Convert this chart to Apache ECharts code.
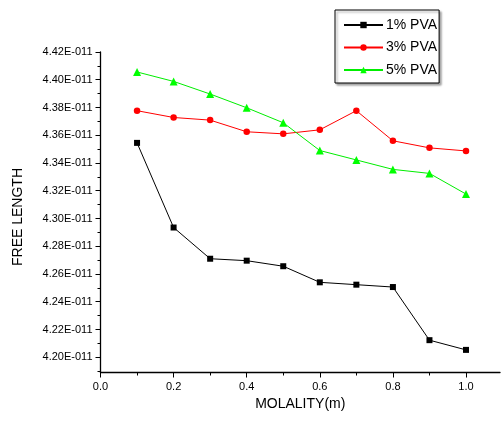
<!DOCTYPE html>
<html>
<head>
<meta charset="utf-8">
<script src="https://cdn.jsdelivr.net/npm/echarts@6/dist/echarts.min.js"></script>
<style>
html,body{margin:0;padding:0;background:#fff;}
#chart{width:501px;height:425px;}
</style>
</head>
<body>
<div id="chart"></div>
<script>
// Molality (m)
const molality = [0.1, 0.2, 0.3, 0.4, 0.5, 0.6, 0.7, 0.8, 0.9, 1.0];
// Free length values, in units of 1E-11
const pva1 = [4.3545, 4.2935, 4.2710, 4.2696, 4.2656, 4.2540, 4.2523, 4.2506, 4.2123, 4.2053];
const pva3 = [4.3777, 4.3728, 4.3709, 4.3625, 4.3610, 4.3639, 4.3777, 4.3560, 4.3509, 4.3487];
const pva5 = [4.4056, 4.3988, 4.3897, 4.3798, 4.3690, 4.3490, 4.3422, 4.3354, 4.3325, 4.3176];
const seriesNames = ['1% PVA', '3% PVA', '5% PVA'];
// Tick values
const yMajorTicks = [4.20, 4.22, 4.24, 4.26, 4.28, 4.30, 4.32, 4.34, 4.36, 4.38, 4.40, 4.42];
const yMinorTicks = [4.19, 4.21, 4.23, 4.25, 4.27, 4.29, 4.31, 4.33, 4.35, 4.37, 4.39, 4.41];
const xMajorTicks = [0.0, 0.2, 0.4, 0.6, 0.8, 1.0];
const xMinorTicks = [0.1, 0.3, 0.5, 0.7, 0.9];

const FONT = "'Liberation Sans', Arial, sans-serif";
const chart = echarts.init(document.getElementById('chart'), null, {renderer: 'canvas'});

const yMin = 4.189, yMax = 4.42, xMin = 0, xMax = 1.093;

function pairs(arr) { return molality.map((m, i) => [m, arr[i]]); }

const option = {
  backgroundColor: '#fff',
  animation: false,
  grid: {left: 100.5, top: 52, right: 1, bottom: 52.5, outerBoundsMode: 'none', containLabel: false},
  xAxis: [{
    type: 'value', min: xMin, max: xMax, position: 'bottom',
    name: 'MOLALITY(m)', nameLocation: 'middle', nameGap: 20,
    nameTextStyle: {fontFamily: FONT, fontSize: 14, color: '#000'},
    axisLine: {show: true, onZero: false, lineStyle: {color: '#000', width: 1.3}},
    axisTick: {show: true, inside: false, length: 5, customValues: xMajorTicks, lineStyle: {color: '#000', width: 1}},
    axisLabel: {show: true, margin: 9, customValues: xMajorTicks, fontFamily: FONT, fontSize: 11, color: '#000',
      formatter: v => v.toFixed(1)},
    splitLine: {show: false}
  }, {
    type: 'value', min: xMin, max: xMax, position: 'bottom', gridIndex: 0,
    axisLine: {show: false, onZero: false},
    axisTick: {show: true, inside: false, length: 3, customValues: xMinorTicks, lineStyle: {color: '#000', width: 1}},
    axisLabel: {show: false},
    splitLine: {show: false}
  }],
  yAxis: [{
    type: 'value', min: yMin, max: yMax, position: 'left',
    axisLine: {show: true, onZero: false, lineStyle: {color: '#000', width: 1.3}},
    axisTick: {show: true, inside: false, length: 5, customValues: yMajorTicks, lineStyle: {color: '#000', width: 1}},
    axisLabel: {show: true, margin: 8, customValues: yMajorTicks, fontFamily: FONT, fontSize: 11, color: '#000',
      formatter: v => v.toFixed(2) + 'E-011'},
    splitLine: {show: false}
  }, {
    type: 'value', min: yMin, max: yMax, position: 'left',
    axisLine: {show: false, onZero: false},
    axisTick: {show: true, inside: false, length: 3, customValues: yMinorTicks, lineStyle: {color: '#000', width: 1}},
    axisLabel: {show: false},
    splitLine: {show: false}
  }],
  legend: {
    show: true, orient: 'vertical', left: 335, top: 10,
    padding: [8, 2, 6, 8], itemGap: 8.5, itemWidth: 39, itemHeight: 8,
    borderColor: '#000', borderWidth: 1, backgroundColor: '#fff',
    shadowColor: 'rgba(0,0,0,0.35)', shadowBlur: 2, shadowOffsetX: 2, shadowOffsetY: 2,
    textStyle: {fontFamily: FONT, fontSize: 14, color: '#000', padding: [0, 0, 0, -2]},
    data: seriesNames
  },
  graphic: [{
    type: 'text', x: 18, y: 217, rotation: Math.PI / 2,
    style: {text: 'FREE LENGTH', fontFamily: FONT, fontSize: 14, fill: '#000', align: 'center', verticalAlign: 'middle'}
  }],
  series: [{
    name: seriesNames[0], type: 'line', data: pairs(pva1),
    symbol: 'rect', symbolSize: 6, showSymbol: true,
    lineStyle: {color: '#000', width: 1}, itemStyle: {color: '#000'}
  }, {
    name: seriesNames[1], type: 'line', data: pairs(pva3),
    symbol: 'circle', symbolSize: 6.5, showSymbol: true,
    lineStyle: {color: '#ff0000', width: 1}, itemStyle: {color: '#ff0000'}
  }, {
    name: seriesNames[2], type: 'line', data: pairs(pva5),
    symbol: 'triangle', symbolSize: 8, showSymbol: true,
    lineStyle: {color: '#00ee00', width: 1}, itemStyle: {color: '#00ff00'}
  }]
};
chart.setOption(option);
</script>
</body>
</html>
